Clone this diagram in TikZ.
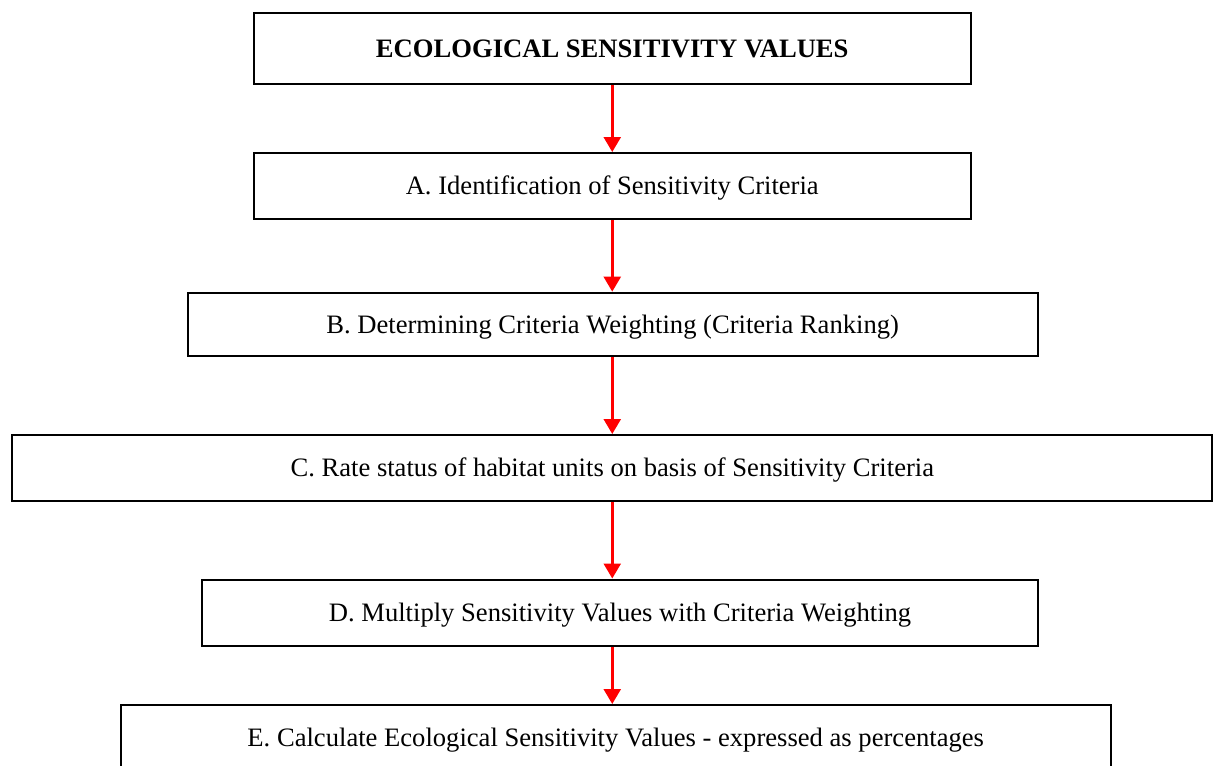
\documentclass[tikz,border=0pt]{standalone}
\usepackage{fontspec}
\setmainfont{Liberation Serif}
\usetikzlibrary{arrows.meta,positioning,calc}
\tikzset{sbox/.style={draw, line width=1pt, rectangle, inner sep=0pt, text height=20.9pt, text depth=12.1pt, font=\fontsize{13.3pt}{16pt}\selectfont}}
\tikzset{arr/.style={draw, red, line width=1.25pt, -{Triangle[length=7.5pt,width=8.5pt]}}}

\begin{document}
\begin{tikzpicture}[x=0.5pt, y=-0.5pt]
    \useasboundingbox (0,0) rectangle (1218,765);
    \node[sbox, minimum width=358.75pt, text height=22.15pt, text depth=13.35pt] (esv) at (612.25,49) {\textbf{ECOLOGICAL SENSITIVITY VALUES}};
    \node[sbox, minimum width=358.75pt] (idcrit) at (612.25,186) {A. Identification of Sensitivity Criteria};
    \node[sbox, minimum width=425pt, text height=20.2pt, text depth=11.45pt] (weight) at (612.6,324.3) {B. Determining Criteria Weighting (Criteria Ranking)};
    \node[sbox, minimum width=600pt] (rate) at (612.3,468) {C. Rate status of habitat units on basis of Sensitivity Criteria};
    \node[sbox, minimum width=417.7pt] (mult) at (620,612.5) {D. Multiply Sensitivity Values with Criteria Weighting};
    \node[sbox, minimum width=495pt] (calc) at (615.7,738) {E. Calculate Ecological Sensitivity Values - expressed as percentages};

    % arrows all at the same x
    \draw[arr] (esv.south) -- (idcrit.north);
    \draw[arr] (idcrit.south) -- (weight.north -| idcrit.south);
    \draw[arr] (weight.south -| idcrit.south) -- (rate.north -| idcrit.south);
    \draw[arr] (rate.south -| idcrit.south) -- (mult.north -| idcrit.south);
    \draw[arr] (mult.south -| idcrit.south) -- (calc.north -| idcrit.south);
\end{tikzpicture}
\end{document}
